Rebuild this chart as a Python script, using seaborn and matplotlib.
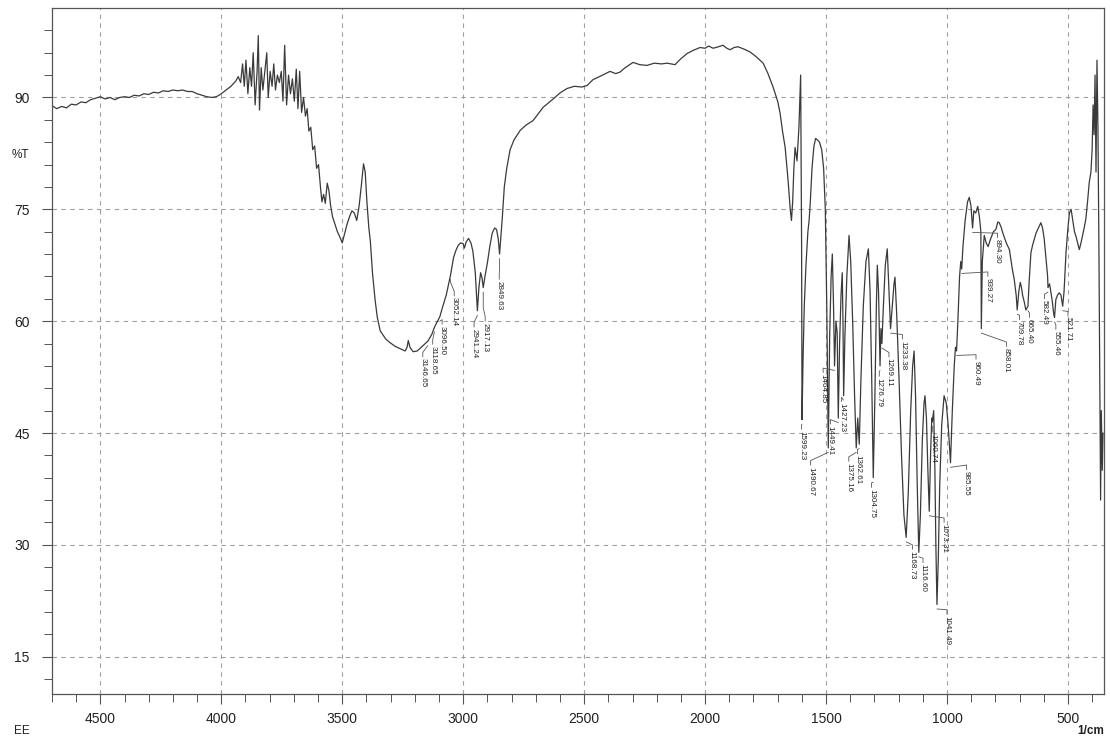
import numpy as np
import pandas as pd
import matplotlib
matplotlib.use("Agg")
import matplotlib.pyplot as plt
import seaborn as sns

# ---------------- data ----------------
wavenumber = [
    4700, 4680, 4660, 4640, 4620, 4600, 4580, 4560, 4540, 4520, 4500, 4480, 4460, 4440, 4420,
    4400, 4380, 4360, 4340, 4320, 4300, 4280, 4260, 4240, 4220, 4200, 4180, 4160, 4140, 4120,
    4100, 4080, 4060, 4040, 4020, 4000, 3980, 3960, 3940, 3930, 3920, 3912, 3905, 3898, 3890,
    3882, 3875, 3868, 3860, 3852, 3847, 3842, 3835, 3828, 3820, 3812, 3806, 3798, 3790, 3783,
    3776, 3768, 3760, 3752, 3745, 3738, 3730, 3722, 3714, 3706, 3698, 3690, 3683, 3676, 3668,
    3660, 3652, 3645, 3638, 3630, 3622, 3614, 3606, 3598, 3590, 3584, 3577, 3570, 3562, 3555,
    3548, 3540, 3530, 3520, 3510, 3500, 3492, 3480, 3470, 3460, 3450, 3440, 3430, 3420, 3412,
    3405, 3398, 3390, 3384, 3375, 3364, 3355, 3343, 3320, 3302, 3280, 3260, 3240, 3232, 3227,
    3220, 3207, 3190, 3170, 3146.65, 3130, 3118.65, 3096.5, 3086, 3070, 3052.14, 3040, 3030, 3020,
    3010, 3000, 2995, 2988, 2978, 2968, 2960, 2950, 2941.24, 2935, 2928, 2922, 2917.13, 2910,
    2900, 2890, 2880, 2870, 2862, 2855, 2849.63, 2844, 2838, 2830, 2820, 2806, 2790, 2764, 2740,
    2711, 2690, 2669, 2650, 2628, 2600, 2571, 2540, 2510, 2488, 2463, 2430, 2393, 2370, 2352,
    2330, 2298, 2270, 2240, 2210, 2180, 2157, 2124, 2100, 2074, 2050, 2021, 2000, 1985, 1967,
    1945, 1926, 1910, 1897, 1880, 1864, 1840, 1814, 1790, 1760, 1740, 1719, 1700, 1690, 1680,
    1669, 1657, 1648, 1643, 1638, 1633, 1628, 1620, 1612, 1605, 1601, 1599.23, 1595, 1590, 1583,
    1575, 1570, 1565, 1558, 1550, 1543, 1535, 1527, 1518, 1510, 1503, 1497, 1490.67, 1485, 1479,
    1474, 1469, 1464.85, 1459, 1454, 1449.41, 1444, 1438, 1433, 1430, 1427.23, 1422, 1414, 1405,
    1398, 1390, 1382, 1375.16, 1369, 1362.61, 1356, 1346, 1335, 1325, 1318, 1311, 1304.75, 1298,
    1292, 1288, 1283, 1276.79, 1273, 1269.11, 1263, 1255, 1247, 1241, 1233.38, 1226, 1219, 1215,
    1208, 1198, 1188, 1178, 1168.73, 1160, 1150, 1142, 1136, 1130, 1123, 1116.6, 1110, 1102,
    1095, 1091, 1085, 1079, 1073.31, 1068, 1063, 1060.74, 1055, 1050, 1046, 1041.49, 1036, 1030,
    1022, 1012, 1003, 995, 985.55, 978, 970, 965, 960.49, 955, 948, 943, 939.27, 934,
    925, 915, 908, 901, 894.3, 889, 881, 873, 866, 860, 858.01, 854, 846, 838, 830,
    820, 808, 798, 790, 784, 776, 770, 755, 742, 730, 722, 714, 709.78, 703, 697,
    692, 687, 680, 674, 665.4, 660, 653, 646, 639, 632, 625, 618, 612, 605, 598,
    591, 584, 582.49, 576, 570, 564, 559, 555.46, 550, 543, 536, 529, 521.71, 516, 508,
    500, 494, 487, 480, 473, 467, 460, 453, 446, 440, 433, 426, 419, 412, 405,
    400, 396, 392, 388, 384, 380, 376, 372, 368, 365, 362, 358, 355,
]
transmittance = [
    88.9, 88.5, 88.8, 88.6, 89.1, 89.0, 89.4, 89.3, 89.7, 89.9, 90.1, 89.8, 90.0, 89.7, 90.0,
    90.1, 90.0, 90.3, 90.2, 90.5, 90.4, 90.7, 90.6, 90.9, 90.8, 91.0, 90.9, 91.0, 90.8, 90.8,
    90.5, 90.3, 90.1, 90.0, 90.1, 90.5, 91.0, 91.5, 92.2, 92.8, 92.0, 94.5, 91.5, 95.0, 90.5,
    94.0, 91.5, 96.0, 89.0, 93.5, 98.3, 88.3, 94.0, 91.0, 93.5, 96.0, 90.0, 93.5, 91.5, 94.5,
    91.0, 93.0, 92.0, 93.5, 89.5, 97.0, 89.0, 93.0, 90.5, 92.5, 89.5, 93.8, 88.5, 93.5, 88.0,
    90.0, 87.5, 88.5, 85.5, 86.0, 83.0, 83.5, 80.5, 81.0, 78.0, 76.0, 77.0, 75.8, 78.5, 77.5,
    75.5, 74.0, 73.0, 72.0, 71.3, 70.5, 71.5, 73.0, 74.0, 74.8, 74.5, 73.5, 75.5, 78.5, 81.1,
    80.0, 76.0, 72.5, 70.8, 66.5, 62.8, 60.5, 58.7, 57.6, 57.1, 56.6, 56.3, 56.0, 56.5, 57.4,
    56.5, 55.9, 56.0, 56.6, 57.3, 58.2, 59.2, 60.6, 61.8, 63.5, 66.2, 68.5, 69.5, 70.2,
    70.5, 70.4, 69.8, 70.6, 71.1, 70.5, 69.4, 66.5, 61.4, 64.5, 66.5, 65.8, 64.5, 66.0,
    67.8, 70.0, 71.8, 72.5, 72.3, 71.0, 69.0, 71.5, 74.0, 78.0, 80.5, 83.0, 84.3, 85.6, 86.3,
    86.9, 87.8, 88.7, 89.2, 89.8, 90.6, 91.2, 91.5, 91.4, 91.6, 92.4, 92.9, 93.5, 93.2, 93.4,
    94.0, 94.7, 94.4, 94.3, 94.6, 94.5, 94.6, 94.4, 95.2, 95.9, 96.3, 96.7, 96.6, 96.9, 96.6,
    96.8, 97.0, 96.6, 96.4, 96.7, 96.8, 96.5, 96.1, 95.5, 94.6, 93.2, 91.4, 89.5, 87.9, 85.5,
    83.3, 78.9, 75.0, 73.5, 76.0, 80.5, 83.3, 81.5, 86.0, 93.0, 70.0, 46.8, 55.0, 62.0, 67.5,
    72.0, 73.5, 76.0, 80.5, 83.5, 84.5, 84.3, 84.0, 83.0, 80.5, 75.0, 62.0, 43.0, 58.0, 66.0,
    69.0, 62.0, 54.0, 60.0, 58.5, 47.0, 57.0, 63.5, 66.5, 60.0, 50.0, 58.0, 66.0, 71.5,
    68.0, 60.0, 50.0, 43.0, 47.0, 43.5, 52.0, 62.0, 68.0, 69.7, 64.0, 52.0, 39.0, 50.0,
    62.0, 67.5, 64.0, 54.0, 59.0, 57.0, 62.0, 67.5, 69.7, 65.0, 59.0, 62.0, 65.0, 65.9,
    61.0, 52.0, 42.0, 34.0, 31.0, 37.0, 48.0, 54.0, 56.0, 50.0, 38.0, 29.0, 34.0, 44.0,
    49.0, 50.0, 47.0, 40.0, 34.5, 42.0, 47.0, 46.5, 48.0, 40.0, 30.0, 22.0, 28.0, 38.0,
    46.0, 50.0, 49.0, 46.0, 41.0, 48.0, 54.0, 56.5, 56.0, 60.0, 66.0, 68.0, 67.0, 70.0,
    73.5, 76.0, 76.6, 75.5, 72.5, 74.8, 74.5, 75.4, 74.0, 72.0, 59.0, 68.0, 71.5, 70.5, 70.0,
    71.0, 72.0, 72.3, 73.3, 73.2, 72.6, 71.9, 70.5, 69.6, 67.0, 65.6, 63.5, 61.5, 64.0, 65.2,
    64.5, 63.4, 62.5, 61.5, 62.0, 65.5, 69.2, 70.2, 71.0, 71.8, 72.3, 72.8, 73.2, 72.5, 71.0,
    68.5, 66.0, 64.5, 65.0, 63.8, 62.5, 61.0, 60.5, 62.9, 63.5, 63.8, 63.5, 62.0, 64.0, 69.2,
    72.5, 74.5, 75.0, 73.5, 72.0, 71.4, 70.5, 69.6, 70.5, 71.4, 72.5, 73.7, 76.0, 78.6, 80.0,
    83.0, 89.0, 85.0, 93.0, 80.0, 95.0, 86.0, 70.0, 50.0, 36.0, 48.0, 40.0, 45.0,
]

peak_labels = ["3146.65", "3118.65", "3096.50", "3052.14", "2941.24", "2917.13", "2849.63",
               "1599.23", "1490.67", "1464.85", "1449.41", "1427.23", "1375.16", "1362.61",
               "1304.75", "1276.79", "1269.11", "1233.38", "1168.73", "1116.60", "1073.31",
               "1060.74", "1041.49", "985.55", "960.49", "939.27", "894.30", "858.01",
               "709.78", "665.40", "582.49", "555.46", "521.71"]

x_ticks = [4500, 4000, 3500, 3000, 2500, 2000, 1500, 1000, 500]
y_ticks = [15, 30, 45, 60, 75, 90]

# label placement (wavenumber, %T of text top)
label_pos_x = [3167, 3126, 3087, 3037, 2955, 2909, 2851,
               1601, 1564, 1512, 1482, 1436, 1406, 1370,
               1312, 1280, 1240, 1184, 1143, 1099, 1012,
               1059, 1000, 919, 880, 831, 791, 754,
               700, 659, 597, 550, 500]
label_pos_y = [55.0, 56.7, 59.4, 63.2, 59.0, 59.8, 65.4,
               45.3, 40.5, 52.9, 46.0, 49.0, 41.0, 42.0,
               37.5, 52.4, 55.0, 57.4, 29.2, 27.4, 32.8,
               44.9, 20.5, 39.9, 54.7, 65.8, 71.0, 56.4,
               60.0, 60.3, 62.8, 58.7, 60.5]

# ---------------- plot ----------------
sns.set_theme(style="white")
plt.rcParams["font.family"] = ["Liberation Sans", "DejaVu Sans"]

fig = plt.figure(figsize=(11.1, 7.4), dpi=100)
ax = fig.add_axes([0.0468, 0.0622, 0.948, 0.927])

df = pd.DataFrame({"wn": wavenumber, "T": transmittance})
line_col = "#3a3a3a"
sns.lineplot(data=df, x="wn", y="T", sort=False, estimator=None, color=line_col,
             linewidth=0.9, ax=ax)

ax.set_xlim(4700, 350)
ax.set_ylim(10, 102)
ax.set_xticks(x_ticks)
ax.set_yticks(y_ticks)
ax.set_xticks(np.arange(400, 4701, 100), minor=True)
ax.set_yticks(np.arange(12, 102, 3), minor=True)
ax.tick_params(axis="both", which="both", direction="out", color="#555555",
               labelsize=10, bottom=True, left=True, labelcolor="#222222")
ax.tick_params(axis="both", which="major", length=7, width=0.8)
ax.tick_params(axis="both", which="minor", length=6, width=0.7)
ax.tick_params(axis="y", pad=9)
ax.tick_params(axis="x", pad=6)
ax.set_xlabel("")
ax.set_ylabel("")
ax.grid(True, which="major", linestyle=(0, (4, 4)), color="#a0a0a0", linewidth=0.8)
for s in ax.spines.values():
    s.set_color("#555555")
    s.set_linewidth(0.9)

# peak labels with leader lines
wn_arr = np.array(wavenumber)[::-1]
t_arr = np.array(transmittance)[::-1]
for lab, lx, ly in zip(peak_labels, label_pos_x, label_pos_y):
    px = float(lab)
    py = float(np.interp(px, wn_arr, t_arr))
    start = py - 0.6
    knee = min(start, ly + 2.0)
    ax.plot([px, px, lx, lx], [start, knee, ly + 0.8, ly + 0.2],
            color="#555555", linewidth=0.6)
    ax.text(lx, ly, lab, rotation=270, ha="center", va="top", fontsize=5.8,
            color="#222222")

fig.text(20 / 1110, 1 - 155 / 740, "%T", fontsize=8.5, ha="center", va="center",
         color="#222222")
fig.text(22 / 1110, 1 - 731 / 740, "EE", fontsize=8.5, ha="center", va="center",
         color="#222222")
fig.text(1104 / 1110, 1 - 731 / 740, "1/cm", fontsize=8.5, ha="right", va="center",
         color="#222222", fontweight="bold")

fig.savefig("out.png", dpi=100, facecolor="white")
